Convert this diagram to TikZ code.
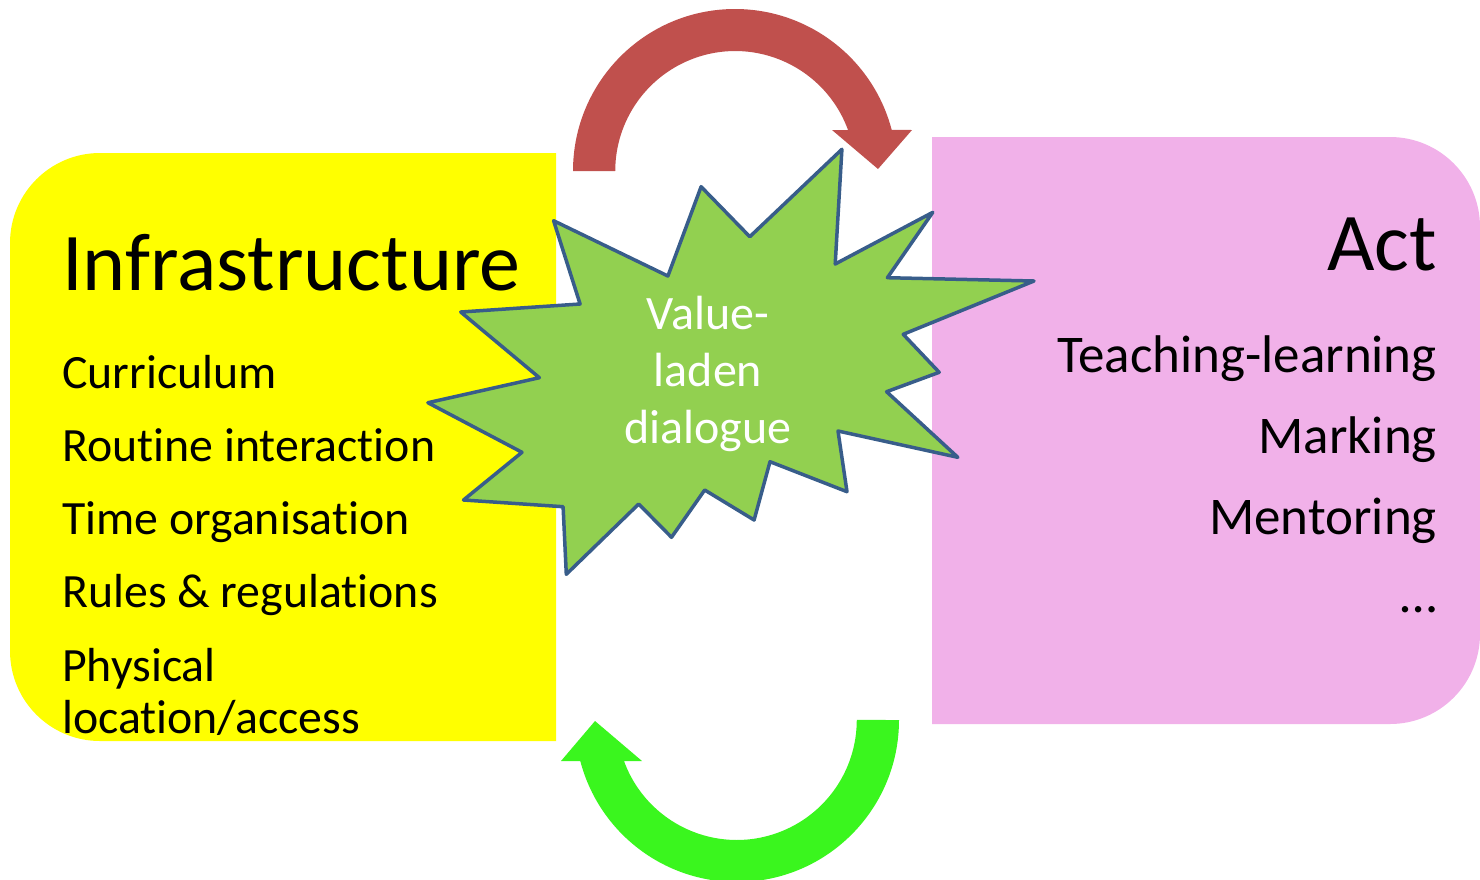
\documentclass[tikz,border=0pt]{standalone}
\usepackage{fontspec}
\setmainfont{Carlito}[Ligatures=NoCommon]
\definecolor{infyellow}{RGB}{255,255,0}
\definecolor{actpink}{RGB}{241,177,233}
\definecolor{arrowred}{RGB}{192,80,77}
\definecolor{arrowgreen}{RGB}{58,246,30}
\definecolor{starfill}{RGB}{146,208,80}
\definecolor{starline}{RGB}{56,93,138}
\tikzset{
  title/.style={inner sep=0pt, font=\fontsize{82}{90}\selectfont, text=black},
  item/.style={inner sep=0pt, font=\fontsize{47.8}{52}\selectfont, text=black},
  ritem/.style={inner sep=0pt, font=\fontsize{53}{60}\selectfont, text=black},
  startext/.style={inner sep=0pt, align=center, font=\fontsize{48}{57}\selectfont, text=white},
}
\begin{document}
\begin{tikzpicture}[x=1pt,y=-1pt]
\useasboundingbox (0,0) rectangle (1480,879);
% Infrastructure box (rounded on the left)
\fill[infyellow] (556,153) -- (100,153) arc[start angle=270, end angle=180, radius=90]
  -- (10,651) arc[start angle=180, end angle=90, radius=90] -- (556,741) -- cycle;
% Act box (rounded on the right)
\fill[actpink] (932,137) -- (1390,137) arc[start angle=270, end angle=360, radius=90]
  -- (1480,634) arc[start angle=0, end angle=90, radius=90] -- (932,724) -- cycle;
% red curved arrow (top)
\fill[arrowred] (573,171) arc[start angle=180, end angle=345.3, radius=162]
  -- (912,130) -- (878,169) -- (832,130) -- (848,130)
  arc[start angle=340, end angle=180, radius=120] -- cycle;
% green curved arrow (bottom)
\fill[arrowgreen] (899,720) arc[start angle=0, end angle=165.3, radius=162]
  -- (561,761) -- (595,721) -- (642,761) -- (624,761)
  arc[start angle=160, end angle=0, radius=120] -- cycle;
% star
\draw[starline, fill=starfill, line width=3.5pt, line join=round]
  (553.6,220.7) -- (667.9,276) -- (701.1,186.7) -- (749.8,236.7) -- (841.9,149.3)
  -- (835.2,264) -- (932.8,212.3) -- (887.4,277.7) -- (1034,281) -- (903.2,334.3)
  -- (939.2,372.3) -- (886.6,391.7) -- (957.8,457.3) -- (838,431) -- (847,491.7)
  -- (770,461.7) -- (754.1,520) -- (704.7,490) -- (671.5,537.3) -- (638.7,504)
  -- (566.3,574.3) -- (563.1,506.7) -- (463.5,500) -- (522,452.3) -- (427.9,402.7)
  -- (539.4,377.7) -- (460.7,312) -- (580.1,304) -- cycle;
\node[startext] (dialogue) at (708,374) {Value-\\laden\\dialogue};
% Infrastructure texts
\node[title, anchor=base west] (infra) at (62,290) {Infrastructure};
\node[item, anchor=base west] (curr) at (62,388) {Curriculum};
\node[item, anchor=base west] (rout) at (62,461) {Routine interaction};
\node[item, anchor=base west] (time) at (62,534) {Time organisation};
\node[item, anchor=base west] (rules) at (62,607) {Rules \& regulations};
\node[item, anchor=base west, align=left] (phys) at (62,733) {Physical\\location/access};
% Act texts
\node[title, anchor=base east] (act) at (1437,270) {Act};
\node[ritem, anchor=base east] (teach) at (1437,372) {Teaching-learning};
\node[ritem, anchor=base east] (mark) at (1437,453) {Marking};
\node[ritem, anchor=base east] (ment) at (1437,534) {Mentoring};
\node[ritem, anchor=base east] (dots) at (1437,612) {\dots};
\end{tikzpicture}
\end{document}
